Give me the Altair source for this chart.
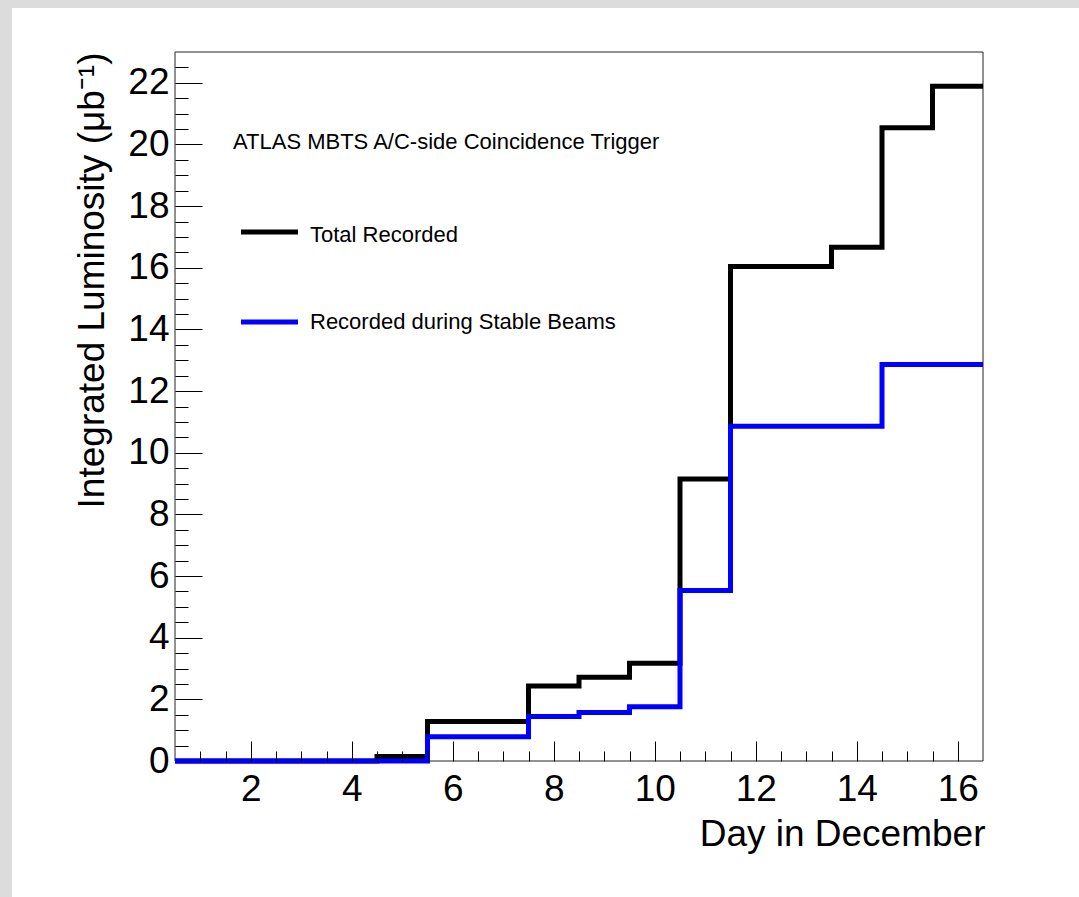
import altair as alt
import pandas as pd

# ---- data ----
days = list(range(1, 17))
total_recorded = [0, 0, 0, 0, 0.15, 1.28, 1.28, 2.43, 2.72, 3.17, 9.15, 16.04, 16.04, 16.67, 20.54, 21.89]
stable_beams = [0, 0, 0, 0, 0, 0.79, 0.79, 1.44, 1.57, 1.76, 5.53, 10.86, 10.86, 10.86, 12.86, 12.86]
series_names = ["Total Recorded", "Recorded during Stable Beams"]
series_colors = ["#000000", "#0000ff"]
x_label_values = [2, 4, 6, 8, 10, 12, 14, 16]
y_label_values = [0, 2, 4, 6, 8, 10, 12, 14, 16, 18, 20, 22]
x_tick_values = [1, 1.5, 2, 2.5, 3, 3.5, 4, 4.5, 5, 5.5, 6, 6.5, 7, 7.5, 8, 8.5, 9, 9.5,
                 10, 10.5, 11, 11.5, 12, 12.5, 13, 13.5, 14, 14.5, 15, 15.5, 16]
y_tick_values = [0.5, 1, 1.5, 2, 2.5, 3, 3.5, 4, 4.5, 5, 5.5, 6, 6.5, 7, 7.5, 8, 8.5, 9, 9.5,
                 10, 10.5, 11, 11.5, 12, 12.5, 13, 13.5, 14, 14.5, 15, 15.5, 16, 16.5, 17,
                 17.5, 18, 18.5, 19, 19.5, 20, 20.5, 21, 21.5, 22, 22.5]
x_title = "Day in December"
y_title = "Integrated Luminosity (\u03bcb\u207b\u00b9)"
header_text = "ATLAS MBTS A/C-side Coincidence Trigger"

W, H = 808, 709
FONT = "Liberation Sans, Arial, Helvetica, sans-serif"


def step_frame(values):
    edges = [d - 0.5 for d in days] + [days[-1] + 0.5]
    vals = list(values) + [values[-1]]
    return pd.DataFrame({"day": edges, "lumi": vals})


xs = alt.Scale(domain=[0.5, 16.5], nice=False, zero=False)
ys = alt.Scale(domain=[0, 23], nice=False, zero=False)

dummy = pd.DataFrame({"a": [0]})

# white canvas panel (decoration)
panel = alt.Chart(dummy).mark_rect(color="white").encode(
    x=alt.value(-163), x2=alt.value(W + 96), y=alt.value(-44), y2=alt.value(H + 136)
)

frame = alt.Chart(dummy).mark_rect(filled=False, stroke="#222222", strokeWidth=1).encode(
    x=alt.value(0), x2=alt.value(W), y=alt.value(0), y2=alt.value(H)
)

x_main_axis = alt.Axis(
    orient="bottom", values=x_label_values, format="d", domain=False, ticks=False, tickSize=0,
    grid=False, labelFont=FONT, labelFontSize=37, labelColor="black", labelPadding=10,
    title=x_title, titleFont=FONT, titleFontSize=37, titleFontWeight="normal", titleColor="black",
    titleAlign="right", titleBaseline="alphabetic", titleAngle=0, titleX=W + 2, titleY=84,
    zindex=1,
)
y_main_axis = alt.Axis(
    orient="left", values=y_label_values, format="d", domain=False, ticks=False, tickSize=0,
    grid=False, labelFont=FONT, labelFontSize=37, labelColor="black", labelPadding=6,
    labelBaseline="middle",
    title=y_title, titleFont=FONT, titleFontSize=37, titleFontWeight="normal", titleColor="black",
    titleAngle=270, titleAlign="right", titleBaseline="alphabetic", titleX=-72, titleY=0,
    zindex=1,
)
x_tick_axis = alt.Axis(
    orient="top", offset=-H, values=x_tick_values, labels=False, domain=False, grid=False,
    ticks=True, tickColor="black", tickWidth=1,
    tickSize={"condition": {"test": "datum.value % 2 === 0", "value": 20}, "value": 10},
    title=None, zindex=1,
)
y_tick_axis = alt.Axis(
    orient="right", offset=-W, values=y_tick_values, labels=False, domain=False, grid=False,
    ticks=True, tickColor="black", tickWidth=1,
    tickSize={"condition": {"test": "datum.value % 2 === 0", "value": 27}, "value": 13},
    title=None, zindex=1,
)

total_line = alt.Chart(step_frame(total_recorded)).mark_line(
    interpolate="step-after", color=series_colors[0], strokeWidth=5, strokeJoin="miter"
).encode(
    x=alt.X("day:Q", scale=xs, axis=x_main_axis),
    y=alt.Y("lumi:Q", scale=ys, axis=y_main_axis),
)

stable_line = alt.Chart(step_frame(stable_beams)).mark_line(
    interpolate="step-after", color=series_colors[1], strokeWidth=5, strokeJoin="miter"
).encode(
    x=alt.X("day:Q", scale=xs, axis=x_tick_axis),
    y=alt.Y("lumi:Q", scale=ys, axis=y_tick_axis),
)

header = alt.Chart(dummy).mark_text(
    align="left", baseline="alphabetic", font=FONT, fontSize=22, color="black"
).encode(x=alt.value(58), y=alt.value(97), text=alt.value(header_text))

leg_rule_0 = alt.Chart(dummy).mark_rule(color=series_colors[0], strokeWidth=5).encode(
    x=alt.value(66), x2=alt.value(123), y=alt.value(180)
)
leg_rule_1 = alt.Chart(dummy).mark_rule(color=series_colors[1], strokeWidth=5).encode(
    x=alt.value(66), x2=alt.value(123), y=alt.value(270)
)
leg_text_0 = alt.Chart(dummy).mark_text(
    align="left", baseline="alphabetic", font=FONT, fontSize=22, color="black"
).encode(x=alt.value(135), y=alt.value(190), text=alt.value(series_names[0]))
leg_text_1 = alt.Chart(dummy).mark_text(
    align="left", baseline="alphabetic", font=FONT, fontSize=22, color="black"
).encode(x=alt.value(135), y=alt.value(277), text=alt.value(series_names[1]))

chart = alt.layer(
    panel, frame, total_line, stable_line, header, leg_rule_0, leg_rule_1, leg_text_0, leg_text_1
).resolve_axis(x="independent", y="independent").properties(
    width=W, height=H,
    autosize=alt.AutoSizeParams(type="none"),
    padding={"left": 175, "top": 52, "right": 96, "bottom": 136},
    background="#dcdcdc",
).configure_view(stroke=None)

chart.save("out.html", embed_options={"renderer": "svg", "actions": False})
